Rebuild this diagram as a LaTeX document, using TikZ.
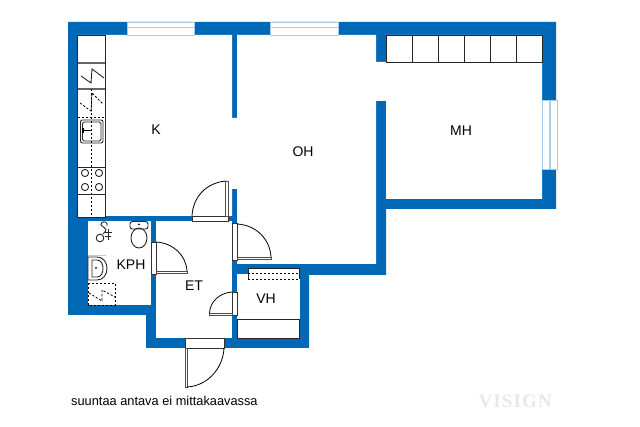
\documentclass[tikz,border=0pt]{standalone}
\usepackage{fontspec}
\setmainfont{Liberation Sans}
\newfontfamily\markfont[LetterSpace=6]{Liberation Serif}
\definecolor{wallblue}{HTML}{0068B4}
\definecolor{glassblue}{HTML}{A9CBE6}
\tikzset{
  room/.style={font=\fontsize{14}{16}\selectfont, inner sep=0pt},
  fixture/.style={draw=black!85, line width=.9pt},
  leaf/.style={draw=black!70, fill=white, line width=.9pt},
  sill/.style={draw=black!80, fill=white, line width=.9pt},
  swing/.style={draw=black, line width=.8pt},
  hidden/.style={draw=black, line width=.8pt, dash pattern=on 2.2pt off 1.8pt},
  pane/.style={draw=glassblue, fill=white, line width=.6pt},
}
\begin{document}
\begin{tikzpicture}[x=1pt, y=-1pt]
        \useasboundingbox (0,0) rectangle (640,427);
        \fill[white] (0,0) rectangle (640,427);

        % walls
        \fill[wallblue] (68,22) -- (556,22) -- (556,209) -- (386,209) -- (386,275) -- (309,275) -- (309,348) -- (146,348) -- (146,315) -- (68,315) -- cycle;
        \fill[white] (78,35) -- (232,35) -- (232,118) -- (237,118) -- (237,35) -- (376,35) -- (376,62) -- (386,62) -- (386,35) -- (542,35) -- (542,199) -- (386,199) -- (386,101) -- (376,101) -- (376,264) -- (237,264) -- (237,189) -- (232,189) -- (232,216) -- (78,216) -- cycle;
        \fill[white] (88,221) rectangle (151,305);
        \fill[white] (156,221) rectangle (232,338);
        \fill[white] (237,274) rectangle (300,338);

        % windows
        \draw[pane] (127,22) rectangle (194,35);
        \draw[pane] (270,22) rectangle (338,35);
        \draw[pane] (542,100) rectangle (557,169);
        \draw[glassblue, line width=1.6pt] (127,27.5) -- (194,27.5) (270,27.5) -- (338,27.5) (550,100) -- (550,169);

        % kitchen
        \draw[fixture, fill=white] (77.5,35) rectangle (105,217);
        \draw[fixture, draw=black!60, line width=1.2pt] (77.5,63) -- (105,63) (77.5,89) -- (105,89);
        \draw[fixture] (77.5,167) -- (105,167) (77.5,194) -- (105,194);
        \draw[hidden] (77.5,117) -- (105,117) (91,89) -- (91,217);
        \draw[fixture] (81,76) -- (91,83) -- (92,69) -- (104,78);
        \draw[hidden] (80,103) -- (91,111) -- (92,93) -- (103,104);
        \draw[fixture, rounded corners=2pt] (80.5,120) rectangle (103,143);
        \draw[fixture, rounded corners=1.5pt] (82.5,122) rectangle (101,141);
        \draw[black, line width=2pt] (83,128) -- (83,133);
        \draw[black, line width=1pt] (83,131) -- (92,131);
        \foreach \bx in {85,99}
          \foreach \by in {173,187}
            \draw[fixture] (\bx,\by) circle (3.6);

        % wardrobe
        \draw[fixture, fill=white] (386,35) rectangle (542,62);
        \foreach \wx in {412,438,464.5,490.5,516.5}
          \draw[fixture] (\wx,35) -- (\wx,62);

        % bathroom
        \draw[fixture, fill=white, rounded corners=2.5pt] (130,221.5) rectangle (148,229);
        \draw[fixture] (139,238) ellipse (8 and 10);
        \fill[black] (139,224.5) circle (1);
        \draw[fixture] (100,238) circle (3.8);
        \draw[fixture] (103,234) .. controls (112,226) and (97,228) .. (102,222.5) .. controls (104,221) and (108,222) .. (107,226);
        \draw[fixture] (105,232) -- (112,232) (105,236) -- (111,236) (108,229) -- (108,240);
        \draw[glassblue, line width=.5pt] (88,255) -- (106,255);
        \draw[fixture] (88,257) -- (97,257) .. controls (103,257) and (107,262) .. (107,268.5) .. controls (107,275) and (103,280) .. (97,280) -- (88,280) -- cycle;
        \draw[fixture] (92,260) -- (97,260) .. controls (101,260) and (103,264) .. (103,268.5) .. controls (103,273) and (101,277) .. (97,277) -- (92,277) -- cycle;
        \fill[black] (96,268) circle (1);
        \draw[hidden] (88,283) rectangle (115,305);
        \draw[hidden] (89,293) -- (102,301) -- (102,290) -- (115,297);

        % closet
        \fill[white] (248,268) rectangle (299.5,279);
        \draw[fixture] (248,279) -- (248,268) -- (299.5,268) -- (299.5,279);
        \draw[hidden] (248,273.5) -- (299.5,273.5) (248,279) -- (299.5,279);
        \draw[fixture, fill=white] (237,319) rectangle (299.5,338);

        % doors
        \draw[sill] (192,216) rectangle (228,221);
        \draw[leaf] (225.5,181) rectangle (228,216);
        \draw[swing] (225.5,181) .. controls (206,183) and (193,197) .. (192,216);
        \draw[sill] (232,223) rectangle (237,260);
        \draw[leaf] (237,257) rectangle (271,259.5);
        \draw[swing] (237,224) .. controls (256,225) and (270,239) .. (271,257);
        \draw[sill] (151.5,242) rectangle (156,274);
        \draw[leaf] (156,271) rectangle (187,273.5);
        \draw[swing] (156,242) .. controls (173,243) and (186,255) .. (187,271);
        \draw[sill] (232,292) rectangle (237,315);
        \draw[leaf] (209.5,313) rectangle (232,315.5);
        \draw[swing] (232,292) .. controls (219,293) and (210,302) .. (209.5,313);
        \draw[sill] (185,338) rectangle (224,348);
        \draw[leaf] (185,348) rectangle (187.5,387);
        \draw[swing] (224,348) .. controls (223,369) and (207,386) .. (187,387);

        % labels
        \node[room] at (156,130)(roomK){K};
        \node[room] at (303,152)(roomOH){OH};
        \node[room] at (461,131)(roomMH){MH};
        \node[room] at (131,265)(roomKPH){KPH};
        \node[room] at (194,286)(roomET){ET};
        \node[room] at (266,299)(roomVH){VH};
        \node[inner sep=0pt, anchor=west, font=\fontsize{12.8}{15}\selectfont] at (71,401)(scalenote){suuntaa antava ei mittakaavassa};
        \node[inner sep=0pt, anchor=east, text=black!9, font=\markfont\fontsize{19}{21}\selectfont\bfseries] at (552,401)(brandmark){VISIGN};
    \end{tikzpicture}
\end{document}
